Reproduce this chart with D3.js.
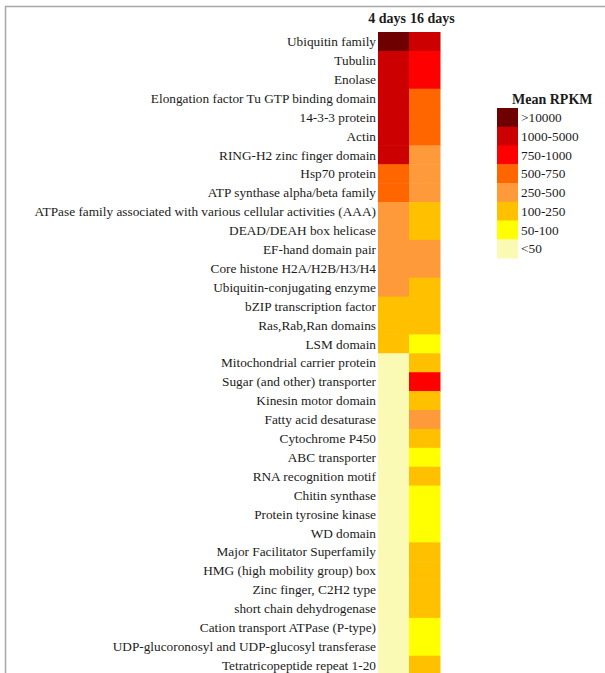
<!DOCTYPE html>
<html>
<head>
<meta charset="utf-8">
<script src="https://cdn.jsdelivr.net/npm/d3@7"></script>
<style>
  html, body { margin: 0; padding: 0; background: #fff; }
  svg { display: block; }
  text { font-family: "Liberation Serif", "Times New Roman", serif; fill: #1b1b1b; }
</style>
</head>
<body>
<script>
// Protein families (rows), top to bottom
const families = [
  "Ubiquitin family",
  "Tubulin",
  "Enolase",
  "Elongation factor Tu GTP binding domain",
  "14-3-3 protein",
  "Actin",
  "RING-H2 zinc finger domain",
  "Hsp70 protein",
  "ATP synthase alpha/beta family",
  "ATPase family associated with various cellular activities (AAA)",
  "DEAD/DEAH box helicase",
  "EF-hand domain pair",
  "Core histone H2A/H2B/H3/H4",
  "Ubiquitin-conjugating enzyme",
  "bZIP transcription factor",
  "Ras,Rab,Ran domains",
  "LSM domain",
  "Mitochondrial carrier protein",
  "Sugar (and other) transporter",
  "Kinesin motor domain",
  "Fatty acid desaturase",
  "Cytochrome P450",
  "ABC transporter",
  "RNA recognition motif",
  "Chitin synthase",
  "Protein tyrosine kinase",
  "WD domain",
  "Major Facilitator Superfamily",
  "HMG (high mobility group) box",
  "Zinc finger, C2H2 type",
  "short chain dehydrogenase",
  "Cation transport ATPase (P-type)",
  "UDP-glucoronosyl and UDP-glucosyl transferase",
  "Tetratricopeptide repeat 1-20"
];

// Time points (columns)
const timepoints = ["4 days", "16 days"];

// Expression classes (mean RPKM bins), highest first
const rpkmBins = [">10000", "1000-5000", "750-1000", "500-750", "250-500", "100-250", "50-100", "<50"];
const binColors = ["#6e0000", "#cc0000", "#ff0000", "#ff6600", "#ff9a3a", "#ffc000", "#ffff00", "#fafab4"];

// Mean RPKM class per family at 4 days
const rpkm4days = [
  ">10000", "1000-5000", "1000-5000", "1000-5000", "1000-5000", "1000-5000", "1000-5000",
  "500-750", "500-750",
  "250-500", "250-500", "250-500", "250-500", "250-500",
  "100-250", "100-250", "100-250",
  "<50", "<50", "<50", "<50", "<50", "<50", "<50", "<50", "<50", "<50",
  "<50", "<50", "<50", "<50", "<50", "<50", "<50"
];

// Mean RPKM class per family at 16 days
const rpkm16days = [
  "1000-5000", "750-1000", "750-1000", "500-750", "500-750", "500-750", "250-500",
  "250-500", "250-500",
  "100-250", "100-250", "250-500", "250-500", "100-250",
  "100-250", "100-250", "50-100",
  "100-250", "750-1000", "100-250", "250-500", "100-250", "50-100", "100-250",
  "50-100", "50-100", "50-100",
  "100-250", "100-250", "100-250", "100-250",
  "50-100", "50-100", "100-250"
];

const cells = [];
families.forEach((f, i) => {
  cells.push({ family: f, time: timepoints[0], bin: rpkm4days[i] });
  cells.push({ family: f, time: timepoints[1], bin: rpkm16days[i] });
});

const width = 605, height = 673;
const svg = d3.select("body").append("svg")
  .attr("width", width).attr("height", height);

// frame lines along the top and left edges
svg.append("line").attr("x1", 5).attr("x2", width).attr("y1", 6.5).attr("y2", 6.5)
  .attr("stroke", "#a8a8a8").attr("stroke-width", 1.5);
svg.append("line").attr("x1", 5.5).attr("x2", 5.5).attr("y1", 6).attr("y2", height)
  .attr("stroke", "#a8a8a8").attr("stroke-width", 1.5);

const x = d3.scaleBand().domain(timepoints).range([378, 440]);
const y = d3.scaleBand().domain(families).range([32, 32 + families.length * 18.9]);
const color = d3.scaleOrdinal().domain(rpkmBins).range(binColors);

// heatmap cells
svg.append("g").selectAll("rect").data(cells).join("rect")
  .attr("x", d => x(d.time))
  .attr("y", d => y(d.family))
  .attr("width", x.bandwidth() + 0.5)
  .attr("height", y.bandwidth() + 0.5)
  .attr("fill", d => color(d.bin));

// row labels
svg.append("g").selectAll("text").data(families).join("text")
  .attr("x", x.range()[0] - 2)
  .attr("y", d => y(d) + y.bandwidth() / 2)
  .attr("dy", "0.35em")
  .attr("text-anchor", "end")
  .attr("font-size", 13.3)
  .text(d => d);

// column headers
const boundary = x(timepoints[1]);
svg.append("text").attr("x", boundary - 3).attr("y", 22.5)
  .attr("text-anchor", "end").attr("font-size", 14).attr("font-weight", "bold")
  .text(timepoints[0]);
svg.append("text").attr("x", boundary + 1).attr("y", 22.5)
  .attr("text-anchor", "start").attr("font-size", 14).attr("font-weight", "bold")
  .text(timepoints[1]);

// legend
const legend = svg.append("g");
legend.append("text").attr("x", 512).attr("y", 104)
  .attr("font-size", 14).attr("font-weight", "bold").text("Mean RPKM");
const ly = d3.scaleBand().domain(rpkmBins).range([108, 108 + rpkmBins.length * 18.75]);
legend.selectAll("rect").data(rpkmBins).join("rect")
  .attr("x", 497).attr("y", d => ly(d))
  .attr("width", 21).attr("height", ly.bandwidth() + 0.5)
  .attr("fill", d => color(d));
legend.selectAll("text.lab").data(rpkmBins).join("text")
  .attr("class", "lab")
  .attr("x", 521).attr("y", d => ly(d) + ly.bandwidth() / 2)
  .attr("dy", "0.35em")
  .attr("font-size", 13.3)
  .text(d => d);
</script>
</body>
</html>
